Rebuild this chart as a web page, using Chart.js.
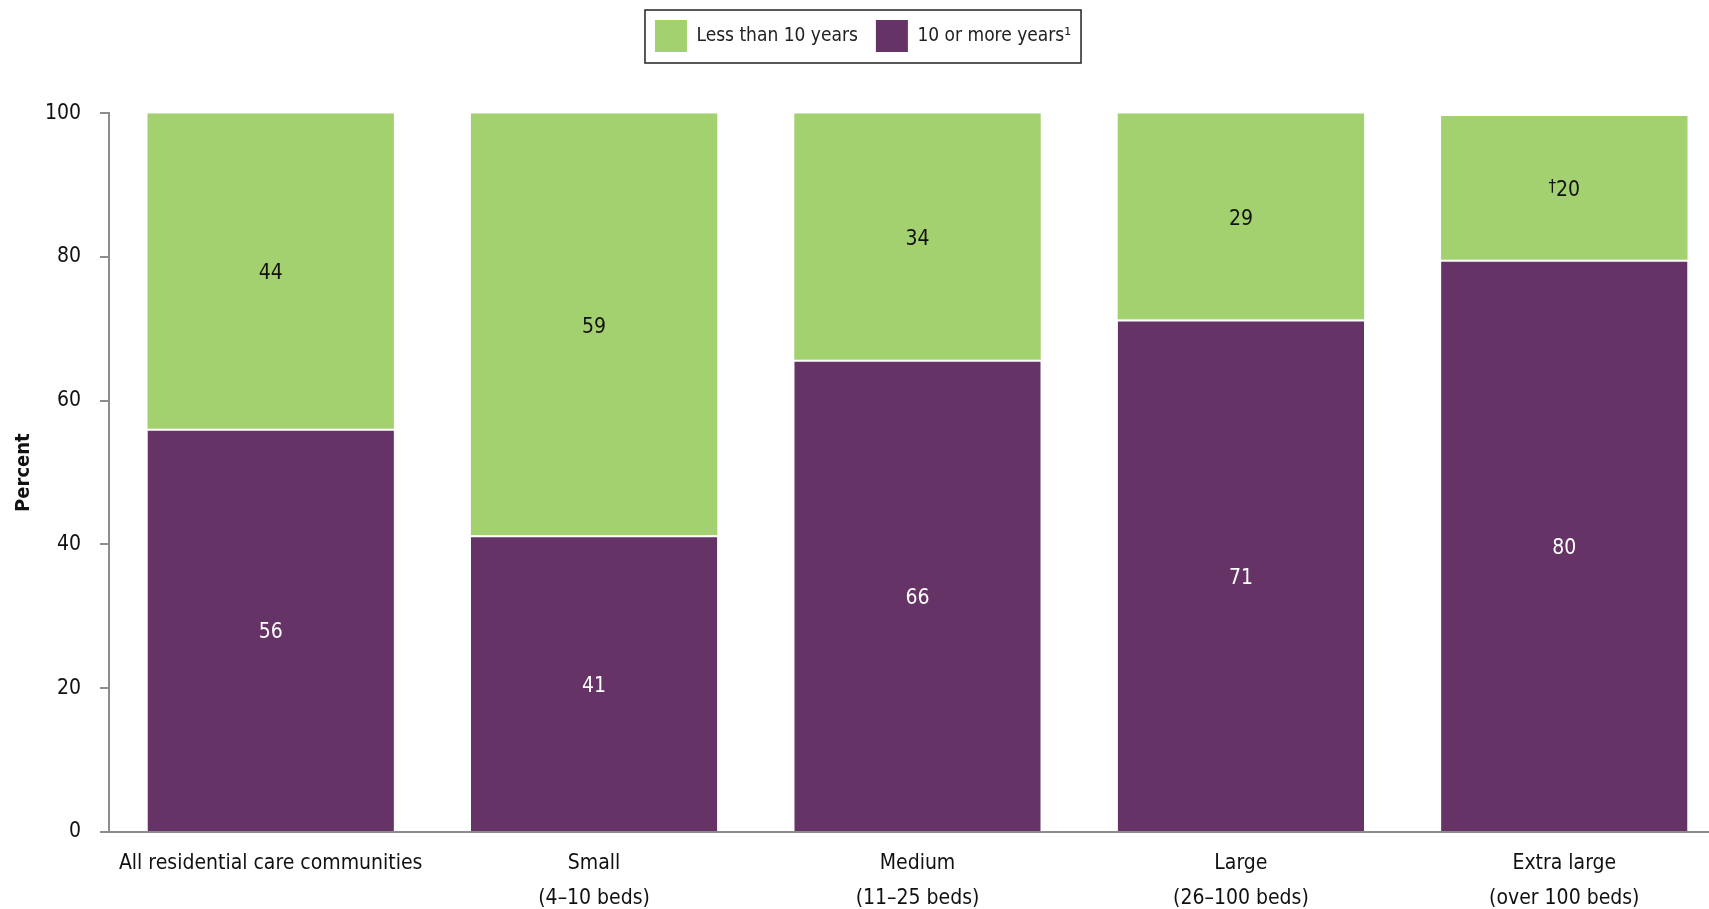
<!DOCTYPE html>
<html>
<head>
<meta charset="utf-8">
<script src="https://cdn.jsdelivr.net/npm/chart.js@4.4.1/dist/chart.umd.min.js"></script>
<style>
  html, body { margin: 0; padding: 0; background: #fff; overflow: hidden; }
  #wrap { width: 1730px; height: 909px; position: relative; }
</style>
</head>
<body>
<div id="wrap"><canvas id="canvas"></canvas></div>
<script>
const categories = [
  "All residential care communities",
  ["Small", "(4–10 beds)"],
  ["Medium", "(11–25 beds)"],
  ["Large", "(26–100 beds)"],
  ["Extra large", "(over 100 beds)"]
];
const tenOrMore = [56.1, 41.3, 65.7, 71.3, 79.6];
const lessThanTen = [43.9, 58.7, 34.3, 28.7, 20.0];
const tenOrMoreLabels = ["56", "41", "66", "71", "80"];
const lessThanTenLabels = ["44", "59", "34", "29", "20"];
const lessThanTenMarks = ["", "", "", "", "†"];
const yTicks = [0, 20, 40, 60, 80, 100];

const FONT = "'Liberation Sans Narrow', 'DejaVu Sans Condensed', 'Roboto', sans-serif";
const GREEN = "#A4D16F";
const PURPLE = "#653366";
const AXIS = "#8c8c8c";

// numbers inside the bar segments
const segmentLabels = {
  id: "segmentLabels",
  afterDatasetsDraw(chart) {
    const ctx = chart.ctx;
    const sets = [
      { texts: tenOrMoreLabels, marks: null, color: "#ffffff" },
      { texts: lessThanTenLabels, marks: lessThanTenMarks, color: "#111111" }
    ];
    ctx.save();
    ctx.textBaseline = "middle";
    ctx.textAlign = "left";
    sets.forEach((s, di) => {
      const meta = chart.getDatasetMeta(di);
      meta.data.forEach((bar, i) => {
        const { x, y, base } = bar.getProps(["x", "y", "base"], true);
        const cy = (y + base) / 2 + 3;
        const txt = s.texts[i];
        const mark = s.marks ? s.marks[i] : "";
        ctx.font = "21px " + FONT;
        const w = ctx.measureText(txt).width;
        ctx.font = "17px " + FONT;
        const mw = mark ? ctx.measureText(mark).width : 0;
        const left = x - (w + mw) / 2;
        ctx.fillStyle = s.color;
        if (mark) ctx.fillText(mark, left, cy - 3);
        ctx.font = "21px " + FONT;
        ctx.fillText(txt, left + mw, cy);
      });
    });
    ctx.restore();
  }
};

// frame around the legend
const legendFrame = {
  id: "legendFrame",
  afterDraw(chart) {
    const boxes = chart.legend && chart.legend.legendHitBoxes;
    if (!boxes || !boxes.length) return;
    const l = Math.min(...boxes.map(b => b.left)) - 10;
    const r = Math.max(...boxes.map(b => b.left + b.width)) + 10;
    const t = boxes[0].top - 10;
    const b = boxes[0].top + boxes[0].height + 11;
    const ctx = chart.ctx;
    ctx.save();
    ctx.strokeStyle = "#222";
    ctx.lineWidth = 1.5;
    ctx.strokeRect(l, t, r - l, b - t);
    ctx.restore();
  }
};

new Chart(document.getElementById("canvas").getContext("2d"), {
  type: "bar",
  data: {
    labels: categories,
    datasets: [
      {
        label: "10 or more years¹",
        data: tenOrMore,
        backgroundColor: PURPLE,
        borderColor: "#ffffff",
        borderWidth: { top: 2, right: 0, bottom: 0, left: 0 },
        borderSkipped: false
      },
      {
        label: "Less than 10 years",
        data: lessThanTen,
        backgroundColor: GREEN,
        borderWidth: 0
      }
    ]
  },
  options: {
    responsive: true,
    maintainAspectRatio: false,
    animation: false,
    datasets: { bar: { categoryPercentage: 1, barPercentage: 0.762 } },
    layout: { padding: { top: 2, left: 0, right: 4, bottom: 0 } },
    scales: {
      x: {
        stacked: true,
        afterFit: (scale) => { scale.height = 77; },
        grid: { display: false, drawTicks: false },
        border: { display: true, color: AXIS, width: 2 },
        ticks: {
          color: "#111",
          padding: 14,
          maxRotation: 0,
          autoSkip: false,
          font: { family: FONT, size: 21, lineHeight: 1.667 }
        }
      },
      y: {
        stacked: true,
        min: 0,
        max: 100,
        afterFit: (scale) => { scale.width = 109; },
        afterBuildTicks: (scale) => { scale.ticks = yTicks.map(v => ({ value: v })); },
        grid: {
          display: true,
          drawOnChartArea: false,
          drawTicks: true,
          tickLength: 9,
          color: AXIS,
          lineWidth: 2
        },
        border: { display: true, color: AXIS, width: 2 },
        ticks: {
          color: "#111",
          padding: 19,
          font: { family: FONT, size: 21 }
        },
        title: {
          display: true,
          text: "Percent",
          color: "#111",
          padding: { top: 12, bottom: 0 },
          font: { family: FONT, size: 20, weight: "bold" }
        }
      }
    },
    plugins: {
      tooltip: { enabled: false },
      title: {
        display: true,
        text: "",
        weight: 500,
        padding: { top: 0, bottom: 50 },
        font: { size: 1 }
      },
      legend: {
        position: "top",
        reverse: true,
        labels: {
          boxWidth: 32,
          boxHeight: 32,
          padding: 18,
          color: "#222",
          font: { family: FONT, size: 19 },
          generateLabels: (chart) =>
            Chart.defaults.plugins.legend.labels.generateLabels(chart).map(item => ({ ...item, lineWidth: 0 }))
        }
      }
    }
  },
  plugins: [segmentLabels, legendFrame]
});
</script>
</body>
</html>
